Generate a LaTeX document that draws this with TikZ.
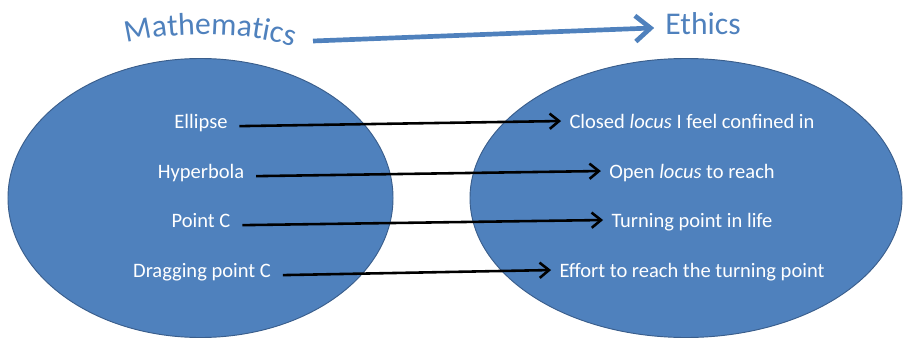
\documentclass[tikz,border=0pt]{standalone}
\usepackage{fontspec}
\setmainfont{Carlito}
\usepackage{tikz}
\usetikzlibrary{
    arrows.meta, shapes.geometric, decorations.text
}
\definecolor{colBlob}{RGB}{79, 129, 189}
\definecolor{colRim}{RGB}{58, 94, 140}
\definecolor{colHead}{RGB}{79, 129, 189}
\newcommand{\headfont}{\fontsize{27}{31}\selectfont}

\begin{document}
\begin{tikzpicture}[x=0.03cm, y=-0.03cm, every node/.style={font=\fontsize{17.5}{21}\selectfont},
    blob/.style={ellipse, draw=colRim, line width=0.8pt, fill=colBlob, inner sep=0pt},
    lbl/.style={text=white, anchor=base, text height=12pt, text depth=3pt, inner sep=4pt},
    link/.style={-{Straight Barb[length=8pt, width=13pt]}, line width=2.2pt, shorten <=6pt, shorten >=3pt},
    bigarrow/.style={-{Straight Barb[length=13pt, width=22pt]}, colHead, line width=4pt, shorten >=6pt}]
    \useasboundingbox (0, 0) rectangle (903, 338);

    % --- Kopf: Mathematics -> Ethics ---
    \path[decorate, decoration={text along path, text align=center, text color=colHead,
        text={|\headfont|Mathematics}}]
        (116, 46) .. controls (170, 30) and (250, 30) .. (304, 50);
    \coordinate (mathsEnd) at (313, 41);
    \node[anchor=base, colHead, font=\headfont] (ethics) at (703, 35) {Ethics};
    \draw[bigarrow] (mathsEnd) -- ([yshift=-3pt]ethics.west);

    % --- Ellipsen ---
    \node[blob, minimum width=11.55cm, minimum height=8.37cm] (mathsBlob) at (200.5, 198) {};
    \node[blob, minimum width=12.96cm, minimum height=8.37cm] (ethicsBlob) at (686, 198) {};

    % Begriffe links
    \node[lbl] (mEllipse) at (201, 128) {Ellipse};
    \node[lbl] (mHyper)   at (201, 178) {Hyperbola};
    \node[lbl] (mPoint)   at (201, 227) {Point C};
    \node[lbl] (mDrag)    at (202, 277) {Dragging point C};

    % Deutungen rechts
    \node[lbl] (eClosed)  at (692, 128) {Closed \textit{locus} I feel confined in};
    \node[lbl] (eOpen)    at (692, 178) {Open \textit{locus} to reach};
    \node[lbl] (eTurn)    at (692, 227) {Turning point in life};
    \node[lbl] (eEffort)  at (692, 277) {Effort to reach the turning point};

    % --- Pfeile ---
    \foreach \a/\b in {mEllipse/eClosed, mHyper/eOpen, mPoint/eTurn, mDrag/eEffort}
        \draw[link] ([yshift=-3pt]\a.east) -- ([yshift=1.5pt]\b.west);
\end{tikzpicture}
\end{document}
